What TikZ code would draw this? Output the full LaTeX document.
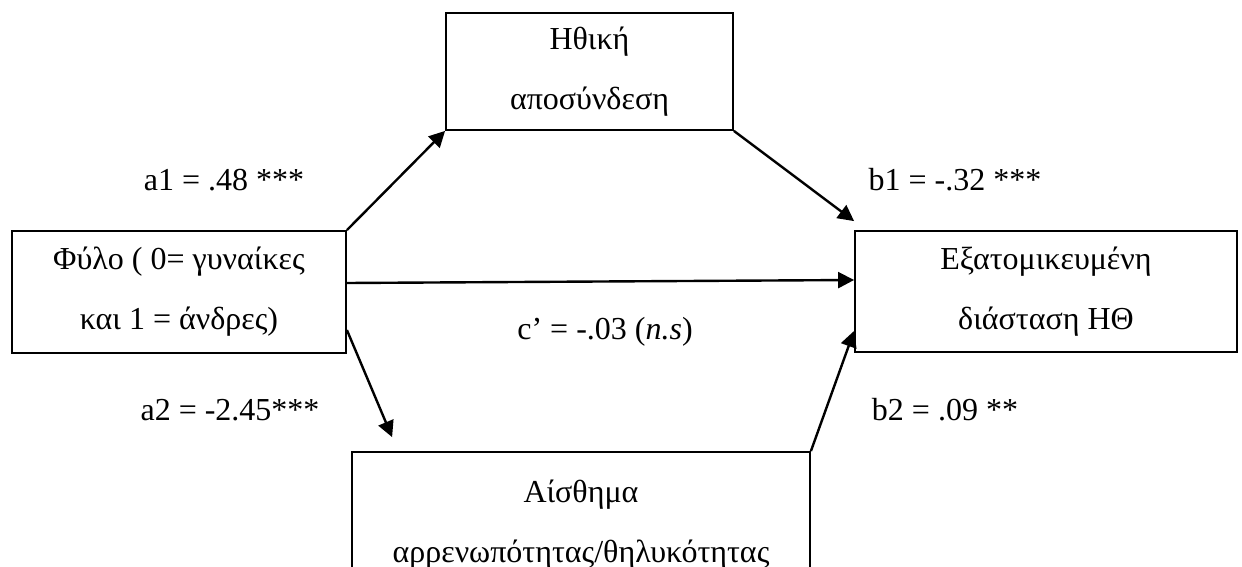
\documentclass[tikz,border=0pt]{standalone}
\usepackage{fontspec}
\setmainfont{Liberation Serif}
\usetikzlibrary{arrows.meta}

\begin{document}
\begin{tikzpicture}[x=0.5pt, y=-0.5pt, %pixel units, y goes down
  box/.style={draw, line width=0.9pt, align=center, inner sep=0pt,
    font=\fontsize{16}{30}\selectfont},
  lbl/.style={font=\fontsize{16}{19}\selectfont},
  path/.style={line width=1.2pt, -{Triangle[length=8pt,width=8pt]}}]
\useasboundingbox (0,0) rectangle (1242,567);
\clip (0,0) rectangle (1242,567); %bottom box runs off the page
\node[box, minimum width=143.5pt, minimum height=58.5pt] (moral) at (589.5,71.5) {Ηθική\\αποσύνδεση};
\node[box, minimum width=167pt, minimum height=61pt] (sex) at (179,292) {Φύλο ( 0= γυναίκες\\και 1 = άνδρες)};
\node[box, minimum width=191pt, minimum height=60.5pt] (indiv) at (1046,291.5) {Εξατομικευμένη\\διάσταση ΗΘ};
\node[box, minimum width=229pt, minimum height=73pt] (gender) at (581,525) {Αίσθημα\\αρρενωπότητας/θηλυκότητας};
% paths
\draw[path] (sex.north east) -- (moral.south west);
\draw[path] (moral.south east) -- ([yshift=4.5pt]indiv.north west);
\draw[path] ([yshift=4.5pt]sex.east) -- ([yshift=5.75pt]indiv.west);
\draw[path] ([yshift=-19pt]sex.east) -- ([xshift=20.5pt,yshift=7pt]gender.north west);
\draw[path] (gender.north east) -- ([yshift=11pt]indiv.south west);
% coefficients
\node[lbl] (a1) at (224,180) {a1 = .48 ***};
\node[lbl] (b1) at (955,180) {b1 = -.32 ***};
\node[lbl] (c) at (605,332) {c’ = -.03 (\textit{n.s})};
\node[lbl] (a2) at (230,410) {a2 = -2.45***};
\node[lbl] (b2) at (945,410) {b2 = .09 **};
\end{tikzpicture}
\end{document}
